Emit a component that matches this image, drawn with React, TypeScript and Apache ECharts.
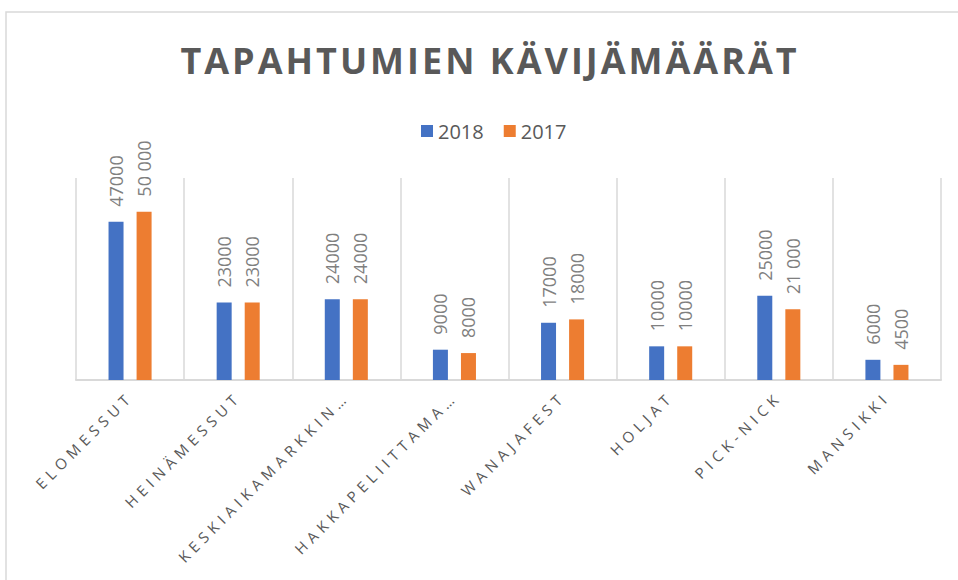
import React, { useEffect, useRef } from "react";
import * as echarts from "echarts";

const titleText = "TAPAHTUMIEN KÄVIJÄMÄÄRÄT";
const categories = [
  "ELOMESSUT",
  "HEINÄMESSUT",
  "KESKIAIKAMARKKIN…",
  "HAKKAPELIITTAMA…",
  "WANAJAFEST",
  "HOLJAT",
  "PICK-NICK",
  "MANSIKKI",
];
const values2018 = [47000, 23000, 24000, 9000, 17000, 10000, 25000, 6000];
const values2017 = [50000, 23000, 24000, 8000, 18000, 10000, 21000, 4500];
const labels2018 = ["47000", "23000", "24000", "9000", "17000", "10000", "25000", "6000"];
const labels2017 = ["50 000", "23000", "24000", "8000", "18000", "10000", "21 000", "4500"];

export default function App() {
  const ref = useRef<HTMLDivElement>(null);
  useEffect(() => {
    if (!ref.current) return;
    const host = ref.current;
    const chart = echarts.init(host, null, { renderer: "svg" });
    const font = "'Open Sans', sans-serif";

    const applySpacing = () => {
      const texts = host.querySelectorAll("text");
      texts.forEach((t) => {
        const s = (t.textContent || "").trim();
        if (s === titleText) {
          t.setAttribute("letter-spacing", "3");
        } else if (categories.indexOf(s) >= 0) {
          t.setAttribute("letter-spacing", "5");
        }
      });
    };

    chart.on("finished", applySpacing);

    const labelCfg = (labels: string[]) => ({
      show: true,
      position: "top",
      rotate: 90,
      align: "left",
      verticalAlign: "middle",
      distance: 15,
      fontFamily: font,
      fontSize: 18,
      color: "#7f7f7f",
      formatter: (p: any) => labels[p.dataIndex],
    });

    chart.setOption({
      animation: false,
      backgroundColor: "#ffffff",
      legend: {
        top: 116,
        left: 416,
        itemWidth: 12,
        itemHeight: 12,
        itemGap: 20,
        icon: "rect",
        textStyle: { fontFamily: font, fontSize: 20, color: "#595959", padding: [0, 0, 0, 0] },
        data: ["2018", "2017"],
      },
      graphic: [
        {
          type: "rect",
          shape: { x: 6, y: 12, width: 1000, height: 1000 },
          style: { fill: "none", stroke: "#d9d9d9", lineWidth: 1.5 },
          silent: true,
        },
        {
          type: "text",
          x: 490,
          y: 60,
          style: {
            text: titleText,
            align: "center",
            verticalAlign: "middle",
            fontFamily: font,
            fontWeight: "bold",
            fontSize: 36,
            fill: "#595959",
          },
          silent: true,
        },
      ],
      grid: { left: 76, right: 17, top: 178, bottom: 200, containLabel: false },
      xAxis: {
        type: "category",
        data: categories,
        boundaryGap: true,
        axisLine: { show: true, lineStyle: { color: "#d9d9d9", width: 2 } },
        axisTick: { show: false },
        splitLine: { show: true, lineStyle: { color: "#d9d9d9", width: 1.5 } },
        axisLabel: {
          interval: 0,
          rotate: 45,
          margin: 14,
          fontFamily: font,
          fontSize: 15,
          color: "#595959",
        },
      },
      yAxis: {
        type: "value",
        min: 0,
        max: 60000,
        show: false,
        splitLine: { show: false },
      },
      series: [
        {
          name: "2018",
          type: "bar",
          data: values2018,
          barWidth: 15,
          barGap: "87%",
          itemStyle: { color: "#4472C4" },
          label: labelCfg(labels2018),
        },
        {
          name: "2017",
          type: "bar",
          data: values2017,
          barWidth: 15,
          barGap: "87%",
          itemStyle: { color: "#ED7D31" },
          label: labelCfg(labels2017),
        },
      ],
    });
    applySpacing();
    const raf = requestAnimationFrame(applySpacing);
    const tm = setTimeout(applySpacing, 50);
    return () => {
      cancelAnimationFrame(raf);
      clearTimeout(tm);
      chart.dispose();
    };
  }, []);
  return (
    <div
      ref={ref}
      style={{ position: "fixed", left: 0, top: 0, width: 958, height: 580 }}
    />
  );
}
